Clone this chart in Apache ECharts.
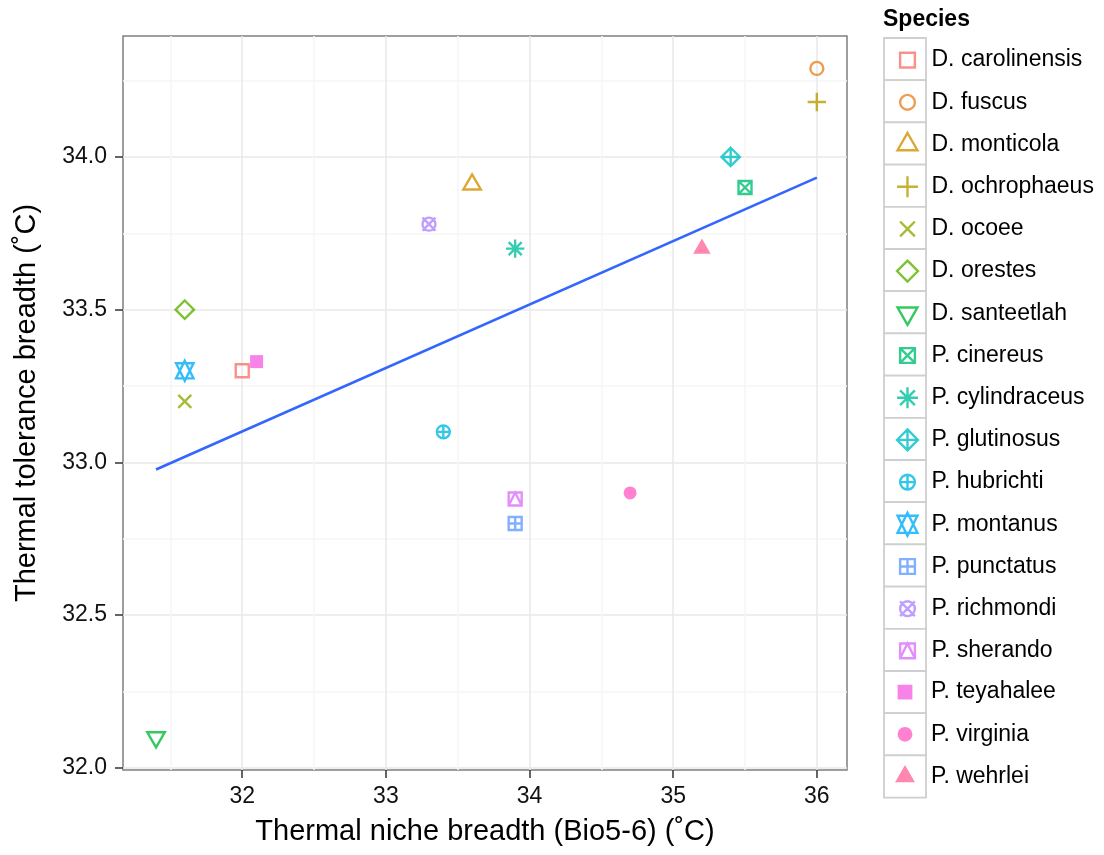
<!DOCTYPE html>
<html><head><meta charset="utf-8">
<script src="https://cdn.jsdelivr.net/npm/echarts@6/dist/echarts.min.js"></script>
<style>html,body{margin:0;padding:0;background:#fff}#c{width:1104px;height:855px}</style>
</head><body><div id="c"></div>
<script>
// ---- data ----
const species = ['D. carolinensis','D. fuscus','D. monticola','D. ochrophaeus','D. ocoee','D. orestes','D. santeetlah','P. cinereus','P. cylindraceus','P. glutinosus','P. hubrichti','P. montanus','P. punctatus','P. richmondi','P. sherando','P. teyahalee','P. virginia','P. wehrlei'];
const nicheBreadth = [32.0, 36.0, 33.6, 36.0, 31.6, 31.6, 31.4, 35.5, 33.9, 35.4, 33.4, 31.6, 33.9, 33.3, 33.9, 32.1, 34.7, 35.2];
const toleranceBreadth = [33.3, 34.29, 33.91, 34.18, 33.2, 33.5, 32.1, 33.9, 33.7, 34.0, 33.1, 33.3, 32.8, 33.78, 32.88, 33.33, 32.9, 33.7];
const xTicks = [32, 33, 34, 35, 36];
const yTicks = [32.0, 32.5, 33.0, 33.5, 34.0];
const xMinor = [31.5, 32.5, 33.5, 34.5, 35.5];
const yMinor = [32.25, 32.75, 33.25, 33.75, 34.25];

// ---- styles ----
const colors = ['#F8766D','#E88526','#D39200','#B79F00','#93AA00','#5EB300','#00BA38','#00BF74','#00C19F','#00BFC4','#00B9E3','#00ADFA','#619CFF','#AE87FF','#DB72FB','#F564E3','#FF61C3','#FF699C'];
const FR = 'M0,0 M22,22 ';
const SQ = 'M4.5,4.5 L17.5,4.5 L17.5,17.5 L4.5,17.5 Z ';
const CI = 'M4.5,11 A6.5,6.5 0 1,1 17.5,11 A6.5,6.5 0 1,1 4.5,11 Z ';
const XS = 'M4.5,4.5 L17.5,17.5 M17.5,4.5 L4.5,17.5 ';
const PS = 'M4.5,11 L17.5,11 M11,4.5 L11,17.5 ';
const PL = 'M1.8,11 L20.2,11 M11,1.8 L11,20.2 ';
const DI = 'M11,1.8 L20.2,11 L11,20.2 L1.8,11 Z ';
const TU = 'M11,0.9 L19.75,16.05 L2.25,16.05 Z ';
const TD = 'M11,21.1 L19.75,5.95 L2.25,5.95 Z ';
const SD = 'M11,0.9 L19.75,18.58 L2.25,18.58 Z M11,21.1 L19.75,3.42 L2.25,3.42 Z ';
const STR = 'M4.5,17.5 L11,4.5 L17.5,17.5 ';
const shapes = [SQ, CI, TU, PL, XS, DI, TD, SQ + XS, XS + PL, DI + PL, CI + PS, SD, SQ + PS, CI + XS, SQ + STR, SQ, CI, TU];
const filled = [0,0,0,0,0,0,0,0,0,0,0,0,0,0,0,1,1,1];
const STROKE = 2.4;

const FONT = '"Liberation Sans", Arial, Helvetica, sans-serif';

// ---- linear fit ----
const n = nicheBreadth.length;
const mx = nicheBreadth.reduce((a, b) => a + b, 0) / n;
const my = toleranceBreadth.reduce((a, b) => a + b, 0) / n;
let sxy = 0, sxx = 0;
for (let i = 0; i < n; i++) { sxy += (nicheBreadth[i] - mx) * (toleranceBreadth[i] - my); sxx += (nicheBreadth[i] - mx) ** 2; }
const slope = sxy / sxx, icpt = my - slope * mx;
const fitX = [Math.min(...nicheBreadth), Math.max(...nicheBreadth)];
const fitData = fitX.map(v => [v, icpt + slope * v]);

const series = species.map((s, i) => ({
  name: s, type: 'scatter', z: 3,
  data: [[nicheBreadth[i], toleranceBreadth[i]]],
  symbol: 'path://' + FR + shapes[i], symbolSize: 22, symbolKeepAspect: true,
  itemStyle: filled[i] ? { color: colors[i], borderWidth: 0 } : { color: 'none', borderColor: colors[i], borderWidth: STROKE },
  emphasis: { disabled: true }, silent: true
}));
series.push({
  name: 'fit', type: 'line', data: fitData, symbol: 'none', z: 2, silent: true,
  lineStyle: { color: '#3366FF', width: 2.6 }
});

// legend keys (one legend per entry so every key sits in its own box)
const keyTop = 38, keyH = 42.2, keyLeft = 884, keyW = 42, iconSz = 25;
const graphics = species.map((s, i) => ({
  type: 'rect', z: 0,
  shape: { x: keyLeft, y: keyTop + i * keyH, width: keyW, height: keyH },
  style: { fill: '#fff', stroke: '#cfcfcf', lineWidth: 1.8 }
}));
graphics.push({
  type: 'text', z: 1,
  style: { text: 'Species', x: 883, y: 20, font: 'bold 23px ' + FONT, fill: '#000', verticalAlign: 'middle' }
});
const legends = species.map((s, i) => ({
  orient: 'vertical', left: keyLeft + keyW / 2 - iconSz / 2,
  top: keyTop + (i + 0.5) * keyH - 14 + (filled[i] ? 1.5 : 0), padding: 0,
  itemWidth: iconSz, itemHeight: iconSz, symbolKeepAspect: true, selectedMode: false,
  data: [{ name: s, itemStyle: filled[i] ? { borderWidth: 0 } : { borderWidth: STROKE } }],
  textStyle: { fontFamily: FONT, fontSize: 23, color: '#000', padding: [0, 0, 0, filled[i] ? 8.5 : 6.5] }
}));

const chart = echarts.init(document.getElementById('c'));
chart.setOption({
  animation: false,
  backgroundColor: '#fff',
  grid: { left: 123, right: 257, top: 36, bottom: 85, show: true, borderColor: '#7f7f7f', borderWidth: 1.5, backgroundColor: 'transparent' },
  xAxis: [{
    type: 'value', min: 31.17, max: 36.21,
    name: 'Thermal niche breadth (Bio5-6) (\u02DAC)', nameLocation: 'middle', nameGap: 47,
    nameTextStyle: { fontFamily: FONT, fontSize: 29, color: '#000' },
    axisLine: { show: false },
    axisTick: { show: true, length: 8, customValues: xTicks, lineStyle: { color: '#333', width: 1.5 } },
    axisLabel: { customValues: xTicks, fontFamily: FONT, fontSize: 23, color: '#111', margin: 15 },
    splitLine: { show: true, lineStyle: { color: '#e9e9e9', width: 1.5 } }
  }, {
    type: 'value', min: 31.17, max: 36.21, position: 'bottom',
    axisLine: { show: false }, axisTick: { show: false, customValues: xMinor }, axisLabel: { show: false },
    splitLine: { show: true, lineStyle: { color: '#f6f6f6', width: 1.5 } }
  }],
  yAxis: [{
    type: 'value', min: 31.993, max: 34.396,
    name: 'Thermal tolerance breadth (\u02DAC)', nameLocation: 'middle', nameGap: 82,
    nameTextStyle: { fontFamily: FONT, fontSize: 29, color: '#000' },
    axisLine: { show: false },
    axisTick: { show: true, length: 8, customValues: yTicks, lineStyle: { color: '#333', width: 1.5 } },
    axisLabel: { customValues: yTicks, formatter: v => v.toFixed(1), fontFamily: FONT, fontSize: 23, color: '#111', margin: 16 },
    splitLine: { show: true, lineStyle: { color: '#e9e9e9', width: 1.5 } }
  }, {
    type: 'value', min: 31.993, max: 34.396, position: 'left',
    axisLine: { show: false }, axisTick: { show: false, customValues: yMinor }, axisLabel: { show: false },
    splitLine: { show: true, lineStyle: { color: '#f6f6f6', width: 1.5 } }
  }],
  legend: legends,
  graphic: graphics,
  series: series
});
</script></body></html>
